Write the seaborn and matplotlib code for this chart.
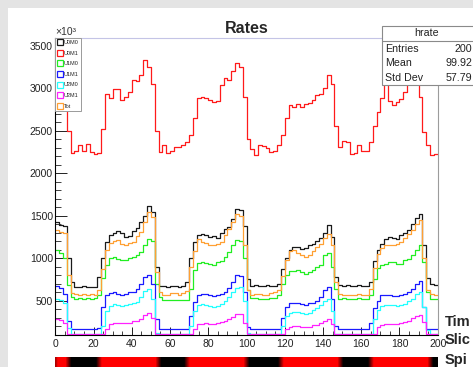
"""Rates per time slice for the six U/M channels and their total (ROOT hrate canvas)."""

import matplotlib

matplotlib.use("Agg")
import matplotlib.pyplot as plt
import numpy as np
import pandas as pd
import seaborn as sns
from matplotlib.colors import LinearSegmentedColormap
from matplotlib.lines import Line2D
from matplotlib.patches import Rectangle
from matplotlib.ticker import MultipleLocator

W, H = 473, 367
BIN = 2
Y_MIN, Y_MAX = 100, 3590

# one value per 2-slice bin, slices 0..200
U0M0 = [1420, 1390, 1380, 1000, 720, 660, 655, 665, 660, 655,
        660, 780, 1000, 1190, 1270, 1300, 1320, 1290, 1250, 1265,
        1320, 1350, 1430, 1500, 1610, 1540, 900, 670, 665, 660,
        670, 670, 660, 665, 720, 1000, 1190, 1267, 1287, 1270,
        1250, 1265, 1230, 1300, 1346, 1366, 1464, 1582, 1562, 1380,
        750, 675, 680, 670, 675, 680, 675, 670, 690, 875,
        1000, 1090, 1130, 1125, 1110, 1120, 1150, 1160, 1200, 1240,
        1300, 1390, 1250, 780, 680, 675, 680, 670, 675, 680,
        670, 675, 720, 960, 1100, 1170, 1220, 1248, 1240, 1228,
        1267, 1290, 1330, 1400, 1470, 1520, 1150, 760, 690, 678]
U0M1 = [2950, 2950, 2920, 2500, 2240, 2255, 2330, 2260, 2340, 2250,
        2220, 2240, 2520, 2930, 2880, 2990, 2990, 2860, 2900, 2950,
        3095, 3080, 3150, 3330, 3250, 3050, 2500, 2250, 2330, 2240,
        2260, 2310, 2305, 2330, 2370, 2450, 2650, 2880, 2900, 2880,
        2860, 2840, 2850, 3040, 3115, 3090, 3200, 3300, 3250, 2900,
        2400, 2280, 2210, 2330, 2320, 2290, 2250, 2260, 2330, 2450,
        2650, 2800, 2780, 2810, 2780, 2810, 2830, 2860, 2920, 2930,
        3000, 3150, 3050, 2560, 2310, 2380, 2370, 2230, 2240, 2330,
        2260, 2260, 2370, 2560, 2720, 2880, 3100, 2850, 2800, 2840,
        2870, 2960, 3100, 3220, 3220, 2900, 2480, 2330, 2210, 2230]
U1M0 = [1091, 1055, 1000, 680, 540, 521, 525, 521, 530, 521,
        525, 570, 760, 920, 1000, 1012, 985, 972, 975, 1000,
        1012, 1030, 1071, 1150, 1228, 1200, 700, 540, 501, 505,
        510, 501, 505, 501, 510, 640, 860, 940, 953, 940,
        935, 914, 950, 965, 1012, 1071, 1150, 1209, 1200, 1000,
        620, 529, 525, 515, 515, 520, 529, 529, 560, 700,
        800, 843, 845, 855, 830, 816, 840, 855, 900, 914,
        1030, 1063, 900, 640, 521, 525, 521, 515, 521, 525,
        521, 521, 560, 750, 880, 920, 933, 950, 953, 935,
        930, 972, 990, 1030, 1091, 1150, 950, 600, 521, 521]
U1M1 = [670, 645, 580, 260, 165, 160, 160, 165, 160, 160,
        165, 180, 420, 560, 590, 600, 580, 570, 580, 595,
        600, 630, 690, 780, 800, 700, 280, 167, 160, 165,
        160, 165, 160, 165, 160, 320, 480, 565, 580, 575,
        560, 550, 565, 580, 600, 650, 720, 796, 785, 600,
        190, 167, 160, 165, 160, 165, 160, 167, 170, 300,
        420, 465, 474, 474, 455, 450, 470, 474, 495, 540,
        620, 655, 520, 200, 167, 160, 165, 160, 165, 160,
        167, 160, 240, 410, 500, 560, 565, 570, 550, 555,
        560, 580, 600, 640, 700, 730, 420, 170, 167, 167]
U2M0 = [521, 501, 470, 180, 60, 60, 60, 60, 60, 60,
        60, 60, 200, 380, 440, 455, 442, 440, 450, 455,
        470, 485, 540, 610, 639, 520, 120, 60, 60, 60,
        60, 60, 60, 60, 60, 200, 380, 442, 462, 445,
        440, 423, 430, 460, 500, 540, 600, 645, 658, 500,
        120, 60, 60, 60, 60, 60, 60, 60, 60, 200,
        320, 350, 364, 364, 350, 345, 350, 390, 410, 450,
        490, 513, 380, 60, 60, 60, 60, 60, 60, 60,
        60, 60, 80, 280, 390, 430, 442, 450, 445, 440,
        445, 462, 490, 520, 580, 600, 420, 150, 60, 60]
U2M1 = [285, 265, 240, 60, 20, 20, 20, 20, 20, 20,
        20, 20, 110, 170, 226, 234, 234, 238, 236, 240,
        254, 260, 285, 324, 352, 300, 60, 20, 20, 20,
        20, 20, 20, 20, 20, 60, 170, 226, 226, 230,
        226, 226, 230, 246, 260, 277, 310, 344, 340, 230,
        20, 20, 20, 20, 20, 20, 20, 20, 20, 90,
        167, 190, 199, 195, 187, 187, 190, 206, 210, 240,
        260, 277, 220, 20, 20, 20, 20, 20, 20, 20,
        20, 20, 20, 110, 187, 215, 226, 226, 226, 226,
        230, 246, 260, 290, 316, 332, 250, 20, 20, 20]
TOT = [1326, 1307, 1290, 800, 590, 578, 570, 580, 570, 580,
       565, 620, 870, 1090, 1180, 1200, 1209, 1160, 1150, 1180,
       1190, 1260, 1310, 1420, 1543, 1480, 830, 600, 570, 565,
       585, 590, 570, 585, 610, 900, 1080, 1228, 1189, 1180,
       1150, 1150, 1170, 1190, 1267, 1346, 1420, 1523, 1500, 1150,
       620, 565, 575, 580, 570, 565, 590, 595, 620, 790,
       980, 1080, 1091, 1060, 1040, 1012, 1030, 1080, 1130, 1170,
       1240, 1287, 1150, 720, 575, 565, 570, 560, 565, 575,
       560, 570, 640, 880, 1052, 1120, 1150, 1158, 1150, 1160,
       1190, 1230, 1280, 1330, 1400, 1450, 1000, 620, 575, 570]

CHANNELS = ["U0M0", "U0M1", "U1M0", "U1M1", "U2M0", "U2M1", "Tot"]
COLORS = ["#1a1a1a", "#ff1a1a", "#22ee22", "#1a1aff", "#22ffff", "#ff22ff", "#ffa033"]

# spill structure shown in the bar under the axis (slice ranges with beam on)
SPILL_START = [0, 23, 69, 118, 165]
SPILL_STOP = [7, 54, 100, 149, 196]

STATS_NAME = "hrate"
STATS_LABELS = ["Entries", "Mean", "Std Dev"]
STATS_VALUES = ["200", "99.92", "57.79"]


def fx(px):
    return px / W


def fy(py):
    return 1 - py / H


sns.set_theme(style="ticks")
plt.rcParams["font.family"] = ["Liberation Sans Narrow", "Liberation Sans", "DejaVu Sans"]

fig = plt.figure(figsize=(W / 100, H / 100), dpi=100)
fig.patch.set_facecolor("#e4e4e4")
fig.add_artist(Rectangle((fx(8), 0), 1 - fx(8), fy(8), transform=fig.transFigure,
                         facecolor="white", edgecolor="none", zorder=-5))

ax = fig.add_axes([fx(55.3), fy(334.5), (437.7 - 55.3) / W, (334.5 - 38) / H])

edges = np.arange(0, 200 + BIN, BIN)
frames = []
for name, vals in zip(CHANNELS, [U0M0, U0M1, U1M0, U1M1, U2M0, U2M1, TOT]):
    y = np.append(vals, vals[-1]).astype(float)
    # ROOT draws under-range bins on the frame floor
    y = np.clip(y, Y_MIN + 6, None)
    frames.append(pd.DataFrame({"slice": edges, "rate": y, "channel": name}))
df = pd.concat(frames, ignore_index=True)

sns.lineplot(data=df, x="slice", y="rate", hue="channel", hue_order=CHANNELS,
             palette=dict(zip(CHANNELS, COLORS)), drawstyle="steps-post",
             estimator=None, legend=False, linewidth=0.9, ax=ax)

ax.set_xlim(0, 200)
ax.set_ylim(Y_MIN, Y_MAX)
ax.set_xlabel("")
ax.set_ylabel("")
ax.xaxis.set_major_locator(MultipleLocator(20))
ax.xaxis.set_minor_locator(MultipleLocator(5))
ax.yaxis.set_major_locator(MultipleLocator(500))
ax.yaxis.set_minor_locator(MultipleLocator(100))
ax.tick_params(axis="both", which="both", direction="in", colors="#222222", labelsize=7.5)
ax.tick_params(axis="x", which="major", length=6, width=0.7, pad=3.5)
ax.tick_params(axis="x", which="minor", length=3, width=0.6)
ax.tick_params(axis="y", which="major", length=8.4, width=0.7, pad=1.7)
ax.tick_params(axis="y", which="minor", length=4.5, width=0.6)
for side, col in [("left", "#000000"), ("bottom", "#000000"), ("top", "#c4c4e6"), ("right", "#9c9c9c")]:
    ax.spines[side].set_color(col)
    ax.spines[side].set_linewidth(0.8)

ax.text(0, 1.004, "×10³", transform=ax.transAxes, ha="left", va="bottom",
        fontsize=7.5, color="#333333")

handles = [Line2D([], [], ls="none", marker="s", ms=4.2, mfc="none", mec=c, mew=0.9) for c in COLORS]
leg = ax.legend(handles, CHANNELS, loc="upper left", bbox_to_anchor=(0, 1), borderaxespad=0,
                fontsize=4, frameon=True, fancybox=False, edgecolor="#9a9a9a", framealpha=1,
                handlelength=0.8, handletextpad=0.3, labelspacing=1.0, borderpad=0.4)
leg.get_frame().set_linewidth(0.7)
leg.set_zorder(5)

# stats box
fig.add_artist(Rectangle((fx(381.7), fy(85)), fx(W + 2) - fx(381.7), fy(26) - fy(85),
                         transform=fig.transFigure, facecolor="white", edgecolor="#8a8a8a",
                         linewidth=0.8, zorder=10))
fig.add_artist(Line2D([fx(381.7), fx(W)], [fy(40.5), fy(40.5)], transform=fig.transFigure,
                      color="#8a8a8a", linewidth=0.8, zorder=11))
fig.text(fx(427), fy(33.5), STATS_NAME, ha="center", va="center", fontsize=7.7, color="#222222", zorder=12)
for row_y, lab, val in zip([49, 63.5, 78], STATS_LABELS, STATS_VALUES):
    fig.text(fx(385), fy(row_y), lab, ha="left", va="center", fontsize=7.7, color="#222222", zorder=12)
    fig.text(fx(472.5), fy(row_y), val, ha="right", va="center", fontsize=7.7, color="#222222", zorder=12)

fig.text(fx(246.5), fy(33.3), "Rates", ha="center", va="baseline", fontsize=11.5,
         fontweight="bold", family=["Liberation Sans", "DejaVu Sans"])

for row_y, txt in zip([321.5, 340, 360], ["Tim", "Slic", "Spi"]):
    fig.text(fx(445), fy(row_y), txt, ha="left", va="center", fontsize=10.5,
             fontweight="bold", family=["Liberation Sans", "DejaVu Sans"])

# spill bar along the bottom
ax_bar = fig.add_axes([fx(55.3), 0, (437.7 - 55.3) / W, 10.5 / H])
spill = np.zeros(200)
for a, b in zip(SPILL_START, SPILL_STOP):
    spill[a:b] = 1
spill = np.convolve(spill, np.ones(3) / 3, mode="same")
spill_cmap = LinearSegmentedColormap.from_list("spill", ["#000000", "#ff0000"])
ax_bar.imshow(spill[np.newaxis, :], aspect="auto", cmap=spill_cmap, vmin=0, vmax=1,
              extent=[0, 200, 0, 1], interpolation="bilinear")
ax_bar.axis("off")

fig.savefig("out.png", dpi=100, facecolor=fig.get_facecolor())
